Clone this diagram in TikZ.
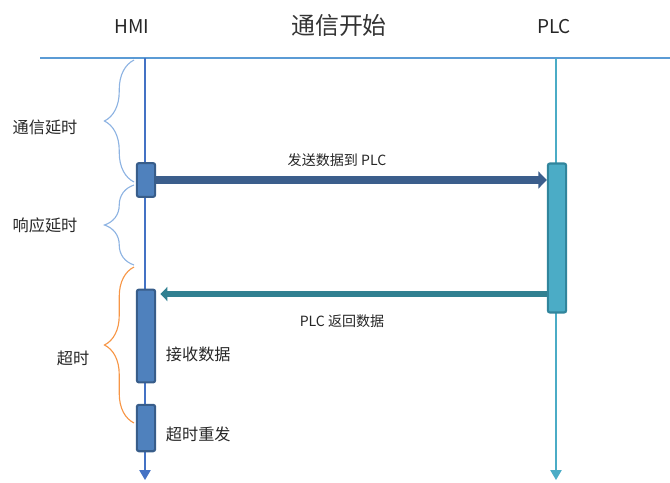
\documentclass[tikz,border=0pt]{standalone}
\usepackage{fontspec}
\setmainfont{Noto Sans CJK SC}
\usepackage{xcolor}
\usetikzlibrary{positioning,arrows.meta,decorations.pathreplacing}
\definecolor{topblue}{RGB}{91,155,213}
\definecolor{hmiblue}{RGB}{68,114,196}
\definecolor{plccyan}{RGB}{75,172,198}
\definecolor{hmifill}{RGB}{79,129,189}
\definecolor{hmiedge}{RGB}{56,93,138}
\definecolor{plcedge}{RGB}{49,133,156}
\definecolor{sendblue}{RGB}{59,94,140}
\definecolor{backteal}{RGB}{49,128,145}
\definecolor{bracepale}{RGB}{141,179,226}
\definecolor{braceorange}{RGB}{247,150,70}

\begin{document}
\begin{tikzpicture}[
    x=0.025cm, y=-0.025cm,
    title/.style={font=\fontsize{13.5}{15}\selectfont, text=black!85},
    bigtitle/.style={font=\fontsize{17}{19}\selectfont, text=black!80},
    side/.style={font=\fontsize{11.5}{13}\selectfont, text=black!85},
    msg/.style={font=\fontsize{10}{12}\selectfont, text=black!85},
    hmibar/.style={draw=hmiedge, line width=1.5pt, fill=hmifill, rounded corners=1.5pt, minimum width=13pt, inner sep=0pt},
    plcbar/.style={draw=plcedge, line width=1.5pt, fill=plccyan, rounded corners=1.5pt, minimum width=13pt, inner sep=0pt},
    life/.style={line width=0.8pt, -{Triangle[width=8pt,length=7pt]}},
    sendarrow/.style={draw=sendblue, line width=5pt, -{Triangle[width=12pt,length=6pt]}},
    backarrow/.style={draw=backteal, line width=4.5pt, -{Triangle[width=10pt,length=5pt]}},
    curly/.style={decorate, decoration={brace, amplitude=21pt}, line width=0.8pt}
]
    \useasboundingbox (0,0) rectangle (670,482);

    % headings
    \node[title] (hmi) at (132,27) {HMI};
    \node[bigtitle] (start) at (339,25) {通信开始};
    \node[title] (plc) at (554,27) {PLC};

    % lifelines
    \coordinate (left) at (40,58);
    \coordinate (right) at (670,58);
    \coordinate (hmitop) at (145,58);
    \coordinate (hmiend) at (145,480);
    \coordinate (plctop) at (556,58);
    \coordinate (plcend) at (556,480);
    \draw[topblue, line width=0.8pt] (left) -- (right);
    \draw[life, hmiblue] (hmitop) -- (hmiend);
    \draw[life, plccyan] (plctop) -- (plcend);

    % activation bars
    \node[hmibar, minimum height=24pt] (send) at (146,180) {};
    \node[hmibar, minimum height=66pt] (recv) at (146,336) {};
    \node[hmibar, minimum height=33pt] (retry) at (146,428) {};
    \node[plcbar, minimum height=106pt] (work) at (557,238) {};

    % messages
    \coordinate (back) at (0,294);
    \draw[sendarrow] (send.east) -- (send.east -| work.west);
    \draw[backarrow] (work.west |- back) -- ([xshift=3pt]recv.east |- back);
    \node[msg] (sendlbl) at (337,160) {发送数据到 PLC};
    \node[msg] (backlbl) at (342,321) {PLC 返回数据};
    \node[side, anchor=west] (recvlbl) at (161,354) {接收数据};
    \node[side, anchor=west] (retrylbl) at (161,434) {超时重发};

    % delays
    \coordinate (b1top) at (134,60);
    \coordinate (b1bot) at (134,182);
    \coordinate (b2top) at (134,185);
    \coordinate (b2bot) at (134,265);
    \coordinate (b3top) at (134,267);
    \coordinate (b3bot) at (134,423);
    \draw[curly, bracepale] (b1bot) -- (b1top);
    \draw[curly, bracepale] (b2bot) -- (b2top);
    \draw[curly, braceorange] (b3bot) -- (b3top);
    \node[side] (commlbl) at (45,127) {通信延时};
    \node[side] (resplbl) at (45,225) {响应延时};
    \node[side] (outlbl) at (73,358) {超时};
\end{tikzpicture}
\end{document}
